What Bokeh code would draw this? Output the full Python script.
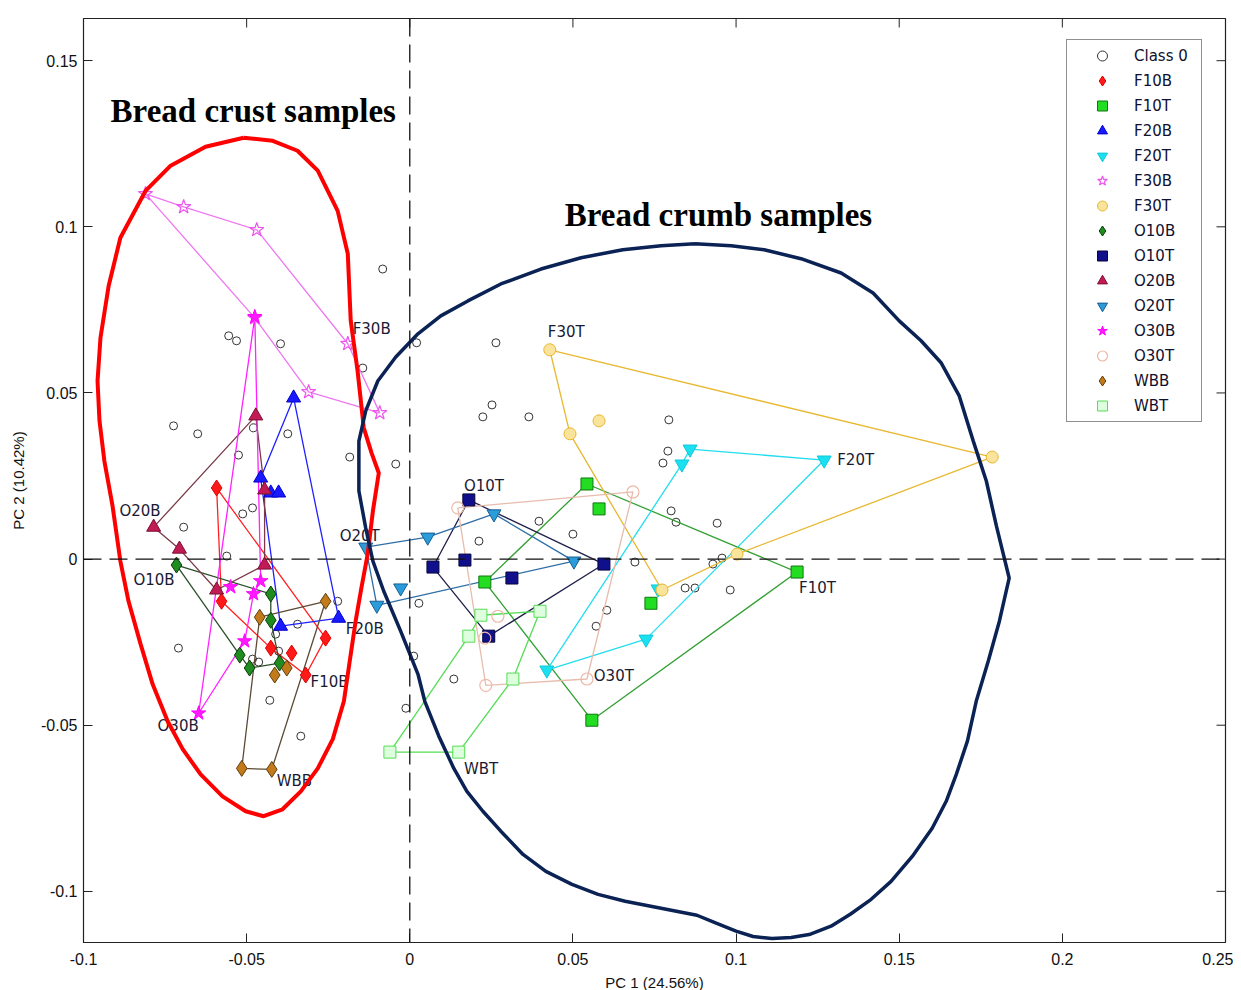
from bokeh.plotting import figure
from bokeh.models import (Range1d, Span, Legend, LegendItem, FixedTicker,
                          Label, ColumnDataSource)
from bokeh.embed import file_html
from bokeh.resources import INLINE
from bokeh.core.properties import value

# ---------------- data ----------------
x_ticks = [-0.1, -0.05, 0, 0.05, 0.1, 0.15, 0.2, 0.25]
x_tick_labels = ["-0.1", "-0.05", "0", "0.05", "0.1", "0.15", "0.2", "0.25"]
y_ticks = [-0.1, -0.05, 0, 0.05, 0.1, 0.15]
y_tick_labels = ["-0.1", "-0.05", "0", "0.05", "0.1", "0.15"]

class0_x = [-0.0083, -0.0555, -0.0531, -0.0396, -0.0144, 0.0021, 0.0264, -0.0724, -0.0650,
            -0.0374, -0.0184, -0.0043, -0.0525, -0.0512, -0.0482, -0.0693, -0.0561, -0.0221,
            0.0252, 0.0224, 0.0365, 0.0794, 0.0791, 0.0776, 0.0801, 0.0816, 0.0942, 0.0396,
            0.0500, 0.0212, 0.0690, 0.0929, 0.0957, 0.0844, 0.0874, 0.0982, 0.0604, 0.0571,
            0.0028, 0.0012, 0.0135, -0.0012, -0.0344, -0.0411, -0.0402, -0.0482, -0.0463,
            -0.0709, -0.0429, -0.0334, -0.0479]
class0_y = [0.0873, 0.0672, 0.0657, 0.0648, 0.0575, 0.0651, 0.0651, 0.0401, 0.0377,
            0.0377, 0.0307, 0.0286, 0.0313, 0.0136, 0.0154, 0.0096, 0.0009, -0.0127,
            0.0464, 0.0428, 0.0428, 0.0419, 0.0325, 0.0289, 0.0145, 0.0111, 0.0108, 0.0114,
            0.0075, 0.0054, -0.0009, -0.0015, 0.0003, -0.0087, -0.0087, -0.0093, -0.0154, -0.0202,
            -0.0133, -0.0292, -0.0361, -0.0449, -0.0196, -0.0226, -0.0277, -0.0301, -0.0310,
            -0.0268, -0.0425, -0.0533, 0.0395]

groups = ["F10B", "F10T", "F20B", "F20T", "F30B", "F30T", "O10B", "O10T",
          "O20B", "O20T", "O30B", "O30T", "WBB", "WBT"]

# points of each group: hull vertices first (in drawing order), then inner points
F10B_x = [-0.0592, -0.0577, -0.0426, -0.0319, -0.0258, -0.0362]
F10B_y = [0.0214, -0.0127, -0.0268, -0.0349, -0.0238, -0.0283]
F10T_x = [0.0543, 0.1187, 0.0558, 0.0230, 0.0580, 0.0739]
F10T_y = [0.0226, -0.0039, -0.0485, -0.0069, 0.0151, -0.0133]
F20B_x = [-0.0356, -0.0457, -0.0396, -0.0218, -0.0426, -0.0402]
F20B_y = [0.0485, 0.0244, -0.0202, -0.0178, 0.0199, 0.0199]
F20T_x = [0.0420, 0.0834, 0.0859, 0.1270, 0.0724, 0.0761]
F20T_y = [-0.0334, 0.0286, 0.0331, 0.0298, -0.0241, -0.0090]
F30B_x = [-0.0810, -0.0693, -0.0469, -0.0190, -0.0092, -0.0310, -0.0475]
F30B_y = [0.1099, 0.1060, 0.0991, 0.0648, 0.0440, 0.0503, 0.0726]
F30T_x = [0.0429, 0.1785, 0.1003, 0.0773, 0.0491, 0.0580]
F30T_y = [0.0630, 0.0307, 0.0015, -0.0093, 0.0377, 0.0416]
O10B_x = [-0.0715, -0.0426, -0.0426, -0.0399, -0.0491, -0.0521]
O10B_y = [-0.0018, -0.0105, -0.0184, -0.0313, -0.0328, -0.0289]
O10T_x = [0.0181, 0.0595, 0.0242, 0.0071, 0.0169, 0.0313]
O10T_y = [0.0178, -0.0015, -0.0232, -0.0024, -0.0003, -0.0057]
O20B_x = [-0.0785, -0.0472, -0.0445, -0.0445, -0.0592, -0.0706]
O20B_y = [0.0096, 0.0431, 0.0208, -0.0018, -0.0093, 0.0030]
O20T_x = [-0.0135, 0.0055, 0.0258, 0.0503, -0.0101, -0.0028]
O20T_y = [0.0036, 0.0066, 0.0136, -0.0006, -0.0139, -0.0087]
O30B_x = [-0.0475, -0.0647, -0.0506, -0.0479, -0.0457, -0.0549]
O30B_y = [0.0729, -0.0464, -0.0247, -0.0105, -0.0066, -0.0084]
O30T_x = [0.0147, 0.0684, 0.0543, 0.0233, 0.0270, 0.0230]
O30T_y = [0.0154, 0.0202, -0.0361, -0.0380, -0.0172, -0.0238]
WBB_x = [-0.0460, -0.0258, -0.0423, -0.0515, -0.0377, -0.0414]
WBB_y = [-0.0175, -0.0127, -0.0633, -0.0630, -0.0328, -0.0349]
WBT_x = [-0.0061, 0.0181, 0.0218, 0.0399, 0.0316, 0.0150]
WBT_y = [-0.0581, -0.0232, -0.0169, -0.0157, -0.0361, -0.0581]

hull_count = [5, 4, 4, 5, 7, 5, 6, 4, 6, 5, 5, 4, 4, 6]

group_x = [F10B_x, F10T_x, F20B_x, F20T_x, F30B_x, F30T_x, O10B_x, O10T_x,
           O20B_x, O20T_x, O30B_x, O30T_x, WBB_x, WBT_x]
group_y = [F10B_y, F10T_y, F20B_y, F20T_y, F30B_y, F30T_y, O10B_y, O10T_y,
           O20B_y, O20T_y, O30B_y, O30T_y, WBB_y, WBT_y]

# group name labels (anchor = left/middle of text)
label_text = ["F30B", "F30T", "F20T", "O10T", "O20B", "O20T", "O10B", "F10T",
              "F20B", "O30T", "F10B", "O30B", "WBT", "WBB"]
label_x = [-0.0175, 0.0423, 0.1310, 0.0166, -0.0890, -0.0215, -0.0847, 0.1193,
           -0.0196, 0.0564, -0.0304, -0.0773, 0.0166, -0.0408]
label_y = [0.0693, 0.0684, 0.0298, 0.0220, 0.0145, 0.0069, -0.0063, -0.0087,
           -0.0211, -0.0352, -0.0370, -0.0503, -0.0633, -0.0669]

# hand-drawn outlines
crust_x = [-0.0509, -0.0420, -0.0344, -0.0282, -0.0221, -0.0190, -0.0181, -0.0160, -0.0141,
           -0.0117, -0.0095, -0.0113, -0.0129, -0.0150, -0.0166, -0.0184, -0.0202, -0.0236,
           -0.0282, -0.0334, -0.0390, -0.0448, -0.0503, -0.0574, -0.0641, -0.0696, -0.0742,
           -0.0788, -0.0825, -0.0862, -0.0887, -0.0911, -0.0936, -0.0951, -0.0957, -0.0948,
           -0.0923, -0.0887, -0.0810, -0.0733, -0.0626, -0.0509]
crust_y = [0.1268, 0.1259, 0.1229, 0.1169, 0.1048, 0.0919, 0.0717, 0.0566, 0.0395,
           0.0319, 0.0259, 0.0145, 0.0015, -0.0096, -0.0187, -0.0307, -0.0428, -0.0542,
           -0.0630, -0.0699, -0.0753, -0.0774, -0.0759, -0.0714, -0.0648, -0.0572, -0.0488,
           -0.0377, -0.0256, -0.0127, -0.0006, 0.0160, 0.0295, 0.0416, 0.0536, 0.0666,
           0.0822, 0.0967, 0.1108, 0.1184, 0.1241, 0.1268]

crumb_x = [0.0874, 0.0985, 0.1086, 0.1199, 0.1322, 0.1420, 0.1500, 0.1567, 0.1629, 0.1684,
           0.1727, 0.1767, 0.1798, 0.1837, 0.1807, 0.1773, 0.1736, 0.1709, 0.1675, 0.1644,
           0.1601, 0.1540, 0.1475, 0.1414, 0.1350, 0.1291, 0.1224, 0.1169, 0.1110, 0.1052,
           0.1000, 0.0939, 0.0880, 0.0770, 0.0660, 0.0577, 0.0497, 0.0417, 0.0347, 0.0279,
           0.0224, 0.0175, 0.0135, 0.0089, 0.0046, 0.0025, -0.0028, -0.0080, -0.0113, -0.0135,
           -0.0156, -0.0156, -0.0135, -0.0098, -0.0043, 0.0025, 0.0095, 0.0178, 0.0279, 0.0402,
           0.0525, 0.0653, 0.0770, 0.0874]
crumb_y = [0.0949, 0.0943, 0.0931, 0.0904, 0.0861, 0.0801, 0.0717, 0.0657, 0.0590, 0.0491,
           0.0355, 0.0235, 0.0099, -0.0057, -0.0187, -0.0307, -0.0428, -0.0548, -0.0648, -0.0729,
           -0.0810, -0.0895, -0.0970, -0.1024, -0.1069, -0.1105, -0.1130, -0.1139, -0.1142, -0.1136,
           -0.1120, -0.1096, -0.1072, -0.1051, -0.1030, -0.1009, -0.0979, -0.0940, -0.0889, -0.0819,
           -0.0759, -0.0699, -0.0630, -0.0533, -0.0428, -0.0346, -0.0217, -0.0096, -0.0006, 0.0093,
           0.0205, 0.0355, 0.0446, 0.0536, 0.0608, 0.0678, 0.0732, 0.0777, 0.0828, 0.0873,
           0.0907, 0.0931, 0.0943, 0.0949]

# ---------------- styles ----------------
STYLE = {
    "F10B": dict(marker="diamond", fill="#FF1A1A", edge="#E00000", line="#FF2020", size=16),
    "F10T": dict(marker="square", fill="#22DD22", edge="#117711", line="#33A033", size=12),
    "F20B": dict(marker="triangle", fill="#1A1AFF", edge="#0000CC", line="#2020FF", size=14),
    "F20T": dict(marker="inverted_triangle", fill="#1AE0F0", edge="#10C8D8", line="#22DDEE", size=14),
    "F30B": dict(marker="star", fill=None, edge="#EE55EE", line="#EE77EE", size=15),
    "F30T": dict(marker="circle", fill="#FAE39A", edge="#E8B830", line="#E8B830", size=12),
    "O10B": dict(marker="diamond", fill="#1E8C1E", edge="#0B3D0B", line="#2B4F2B", size=16),
    "O10T": dict(marker="square", fill="#10108C", edge="#05053A", line="#1F1F4A", size=12),
    "O20B": dict(marker="triangle", fill="#C21A55", edge="#7A1030", line="#7A3A48", size=14),
    "O20T": dict(marker="inverted_triangle", fill="#2A9BDB", edge="#1A5F90", line="#2E6EA6", size=14),
    "O30B": dict(marker="star", fill="#FF1AFF", edge="#FF00FF", line="#FF22FF", size=15),
    "O30T": dict(marker="circle", fill=None, edge="#EDB9A8", line="#E8BCAC", size=12),
    "WBB": dict(marker="diamond", fill="#C27A1A", edge="#5F3F0F", line="#5C4A35", size=16),
    "WBT": dict(marker="square", fill="#DDFFDD", edge="#55DD55", line="#55DD55", size=12),
}

# ---------------- figure ----------------
X0, X1 = -0.1, 0.25
Y0, Y1 = -0.1154, 0.1627
FW, FH = 1142, 924
p = figure(frame_width=FW, frame_height=FH, output_backend="svg", toolbar_location=None,
           x_range=Range1d(X0, X1), y_range=Range1d(Y0, Y1),
           min_border_left=83, min_border_right=8, min_border_top=18, min_border_bottom=48)
p.background_fill_color = "white"
p.border_fill_color = "white"
p.xgrid.visible = False
p.ygrid.visible = False
p.outline_line_color = "#222222"
p.outline_line_width = 1.2

tick_font = "Liberation Sans"
for ax, ticks, labels in ((p.xaxis[0], x_ticks, x_tick_labels), (p.yaxis[0], y_ticks, y_tick_labels)):
    ax.ticker = FixedTicker(ticks=ticks)
    ax.major_label_overrides = {t: s for t, s in zip(ticks, labels)}
    ax.major_tick_in = 9
    ax.major_tick_out = 0
    ax.minor_tick_line_color = None
    ax.axis_line_color = "#222222"
    ax.major_tick_line_color = "#222222"
    ax.major_label_text_font = tick_font
    ax.major_label_text_font_size = "16px"
    ax.major_label_text_color = "#111111"
    ax.axis_label_text_font = tick_font
    ax.axis_label_text_font_size = "15px"
    ax.axis_label_text_font_style = "normal"
    ax.axis_label_text_color = "#111111"

p.xaxis[0].axis_label = "PC 1 (24.56%)"
p.yaxis[0].axis_label = "PC 2 (10.42%)"
p.xaxis[0].major_label_standoff = 10
p.xaxis[0].axis_label_standoff = 6
p.yaxis[0].major_label_standoff = 6
p.yaxis[0].axis_label_standoff = 11

# inward ticks on the top and right frame edges
tick_dx = 9 * (X1 - X0) / FW
tick_dy = 9 * (Y1 - Y0) / FH
p.segment(x0=x_ticks, y0=[Y1] * len(x_ticks), x1=x_ticks, y1=[Y1 - tick_dy] * len(x_ticks),
          line_color="#222222", line_width=1)
p.segment(x0=[X1] * len(y_ticks), y0=y_ticks, x1=[X1 - tick_dx] * len(y_ticks), y1=y_ticks,
          line_color="#222222", line_width=1)

# zero lines
p.add_layout(Span(location=0, dimension="height", line_color="#111111", line_width=1.3,
                  line_dash="18 8"))
p.add_layout(Span(location=0, dimension="width", line_color="#111111", line_width=1.3,
                  line_dash="18 8"))

# class 0
r_class0 = p.scatter(class0_x, class0_y, marker="circle", size=8, fill_color=None,
                     line_color="#333333", line_width=1)

legend_items = [LegendItem(label="Class 0", renderers=[r_class0])]

# hull lines
for name, gx, gy, n in zip(groups, group_x, group_y, hull_count):
    st = STYLE[name]
    hx = list(gx[:n]) + [gx[0]]
    hy = list(gy[:n]) + [gy[0]]
    p.line(hx, hy, line_color=st["line"], line_width=1.3)

# markers
for name, gx, gy in zip(groups, group_x, group_y):
    st = STYLE[name]
    if st["fill"] is None:
        r = p.scatter(gx, gy, marker=st["marker"], size=st["size"], fill_color="white",
                      fill_alpha=0.0, line_color=st["edge"], line_width=1.2)
    else:
        r = p.scatter(gx, gy, marker=st["marker"], size=st["size"], fill_color=st["fill"],
                      line_color=st["edge"], line_width=1)
    legend_items.append(LegendItem(label=name, renderers=[r]))

# group labels
lsrc = ColumnDataSource(dict(x=label_x, y=label_y, t=label_text))
p.text(x="x", y="y", text="t", source=lsrc, text_font=value("DejaVu Sans"),
       text_font_size="15px", text_color="#1A1A33", text_align="left",
       text_baseline="middle")

# outlines
p.line(crust_x, crust_y, line_color="#FF0000", line_width=4)
p.line(crumb_x, crumb_y, line_color="#0B2255", line_width=3.5)

# annotations
p.add_layout(Label(x=-0.0917, y=0.1349, text="Bread crust samples", text_font="Liberation Serif",
                   text_font_style="bold", text_font_size="33px", text_color="#000000",
                   text_align="left", text_baseline="middle"))
p.add_layout(Label(x=0.0475, y=0.1036, text="Bread crumb samples", text_font="Liberation Serif",
                   text_font_style="bold", text_font_size="33px", text_color="#000000",
                   text_align="left", text_baseline="middle"))

legend = Legend(items=legend_items, location=(983, 520), orientation="vertical",
                glyph_width=64, glyph_height=25, label_height=25, label_width=64,
                spacing=0, padding=3, margin=0, label_standoff=0,
                label_text_font="DejaVu Sans", label_text_font_size="15px",
                label_text_color="#101030", border_line_color="#222222",
                border_line_width=1.5, background_fill_color="white", background_fill_alpha=1.0)
p.add_layout(legend)

open("out.html", "w").write(file_html(p, INLINE))
